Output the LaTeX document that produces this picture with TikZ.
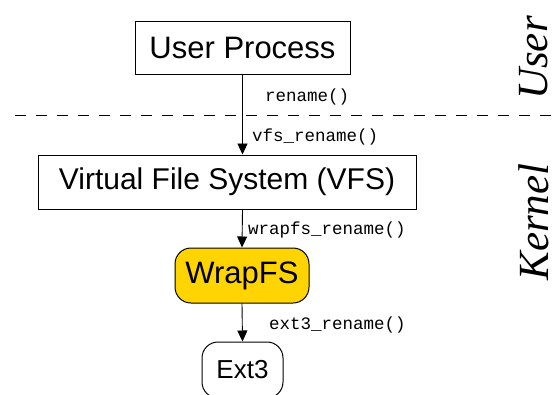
\documentclass[tikz,border=0pt]{standalone}
\usepackage{fontspec}
\setmainfont{Liberation Sans}
\newfontfamily\callfont{Liberation Mono}
\newfontfamily\sidefont{Liberation Serif}
\usetikzlibrary{arrows.meta}
\definecolor{wrapgold}{RGB}{255,212,0}
\begin{document}
\begin{tikzpicture}[x=1pt,y=-1pt,
    box/.style={draw,line width=1pt,inner sep=0pt},
    call/.style={anchor=west,inner sep=0pt,font=\callfont\fontsize{17.5}{20}\selectfont},
    side/.style={rotate=90,inner sep=0pt,font=\sidefont\itshape\fontsize{43}{48}\selectfont},
    flow/.style={-{Triangle[width=10pt,length=11pt]},line width=0.9pt}]
    \useasboundingbox (0,0) rectangle (557,394);
    \clip (0,0) rectangle (557,394);
    % user / kernel border
    \draw[line width=1pt,dash pattern=on 11pt off 10pt] (15,115) -- (557,115);
    \node[side] (userside) at (534,58) {User};
    \node[side] (kernside) at (534,222) {Kernel};
    % layers
    \node[box,minimum width=215pt,minimum height=53pt,font=\fontsize{31}{36}\selectfont] (user) at (242.5,47.5) {User Process};
    \node[box,minimum width=378pt,minimum height=54pt,font=\fontsize{30}{36}\selectfont] (vfs) at (227,182) {Virtual File System (VFS)};
    \node[box,fill=wrapgold,rounded corners=16pt,minimum width=134pt,minimum height=55pt,font=\fontsize{31}{36}\selectfont] (wrap) at (242,275.5) {WrapFS};
    \node[box,rounded corners=16pt,minimum width=81pt,minimum height=56pt,font=\fontsize{26}{30}\selectfont] (ext) at (242.5,370) {Ext3};
    % calls between layers
    \draw[line width=0.9pt] (user.south) -- (user.south |- 0,115);
    \draw[flow] (user.south |- 0,115) -- (user.south |- vfs.north);
    \draw[flow] (user.south |- vfs.south) -- (wrap.north);
    \draw[flow] (wrap.south) -- (ext.north);
    \node[call] (c1) at (265,97) {rename()};
    \node[call] (c2) at (252,137) {vfs\_rename()};
    \node[call] (c3) at (248,230) {wrapfs\_rename()};
    \node[call] (c4) at (269,325) {ext3\_rename()};
\end{tikzpicture}
\end{document}
